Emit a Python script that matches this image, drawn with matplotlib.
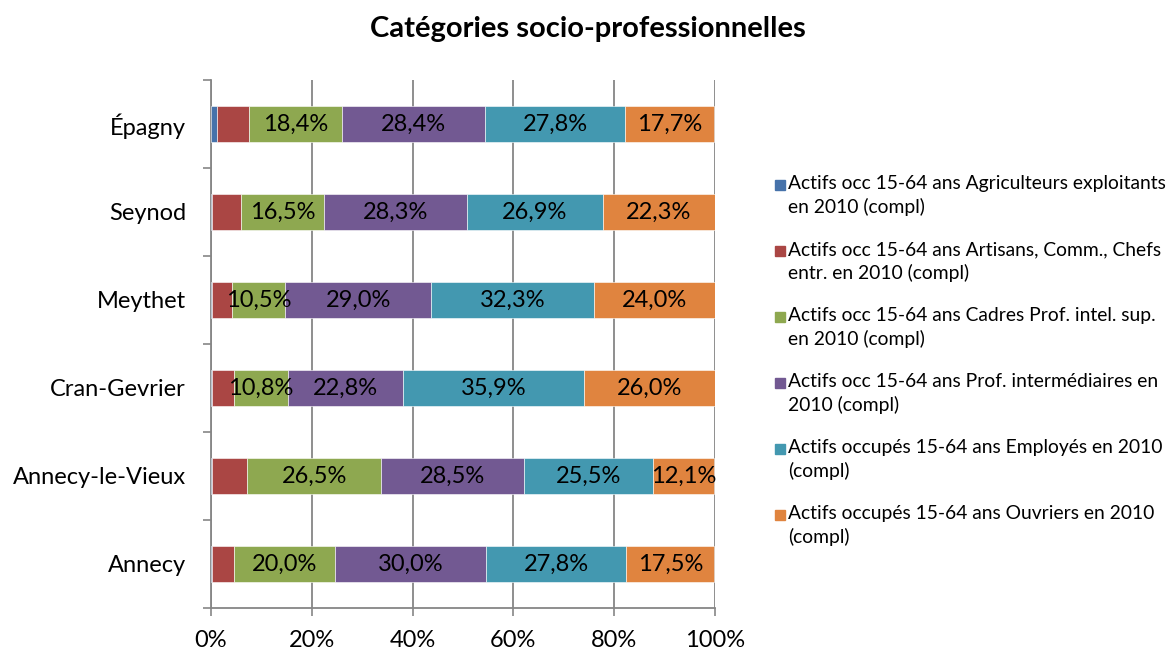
import numpy as np
import matplotlib.pyplot as plt
from matplotlib.patches import Rectangle

plt.rcParams['font.family'] = ['Lato', 'DejaVu Sans']

# ------------------------------------------------------------
# DONNEES
# ------------------------------------------------------------

communes = ["Annecy", "Annecy-le-Vieux", "Cran-Gevrier", "Meythet", "Seynod", "Épagny"]

agriculteurs = [0.1, 0.2, 0.1, 0.1, 0.1, 1.1]
artisans = [4.5, 7.0, 4.4, 4.1, 5.9, 6.5]
cadres = [20.0, 26.5, 10.8, 10.5, 16.5, 18.4]
prof_inter = [30.0, 28.5, 22.8, 29.0, 28.3, 28.4]
employes = [27.8, 25.5, 35.9, 32.3, 26.9, 27.8]
ouvriers = [17.5, 12.1, 26.0, 24.0, 22.3, 17.7]

series_names = [
    "Actifs occ 15-64 ans Agriculteurs exploitants\nen 2010 (compl)",
    "Actifs occ 15-64 ans Artisans, Comm., Chefs\nentr. en 2010 (compl)",
    "Actifs occ 15-64 ans Cadres Prof. intel. sup.\nen 2010 (compl)",
    "Actifs occ 15-64 ans Prof. intermédiaires en\n2010 (compl)",
    "Actifs occupés 15-64 ans Employés en 2010\n(compl)",
    "Actifs occupés 15-64 ans Ouvriers en 2010\n(compl)",
]
series = [agriculteurs, artisans, cadres, prof_inter, employes, ouvriers]
colors = ["#4672AA", "#AA4644", "#8EA850", "#725992", "#4398B0", "#E0843F"]
labelled = [False, False, True, True, True, True]

# ------------------------------------------------------------
# FIGURE
# ------------------------------------------------------------

W, H = 1175, 655
fig = plt.figure(figsize=(W / 100, H / 100), dpi=100)
ax = fig.add_axes([0.1796, 0.0718, 0.4289, 0.8061])

y = np.arange(len(communes))
left = np.zeros(len(communes))

for name, vals, col, lab in zip(series_names, series, colors, labelled):
    vals = np.array(vals)
    ax.barh(y, vals, left=left, height=0.4, color=col,
            edgecolor="white", linewidth=0.4, label=name, zorder=3)
    if lab:
        for yi, l, v in zip(y, left, vals):
            ax.text(l + v / 2, yi, f"{v:.1f}%".replace(".", ","),
                    ha="center", va="center", fontsize=17, color="black",
                    zorder=4)
    left = left + vals

ax.set_xlim(0, 100)
ax.set_ylim(-0.5, len(communes) - 0.5)
ax.set_xticks([0, 20, 40, 60, 80, 100])
ax.set_xticklabels(["0%", "20%", "40%", "60%", "80%", "100%"], fontsize=17)
ax.set_yticks(y)
ax.set_yticklabels(communes, fontsize=17)
ax.set_yticks(np.arange(-0.5, len(communes), 1), minor=True)

ax.tick_params(axis="y", which="major", length=0, pad=18)
ax.tick_params(axis="y", which="minor", length=6, color="#868686", width=1.2)
ax.tick_params(axis="x", length=6, color="#868686", width=1.2, pad=10)

ax.grid(axis="x", color="#868686", linewidth=1.3, zorder=0)
for s in ["top", "right"]:
    ax.spines[s].set_visible(False)
for s in ["left", "bottom"]:
    ax.spines[s].set_color("#868686")
    ax.spines[s].set_linewidth(1.3)

fig.text(0.5, 0.955, "Catégories socio-professionnelles", ha="center",
         va="center", fontsize=21, fontweight="bold")

# legende dessinee a la main (carre aligne sur la 1re ligne, comme Excel)
for i, (name, col) in enumerate(zip(series_names, colors)):
    ytop = 185 + 66 * i
    fig.add_artist(Rectangle((775 / W, 1 - (ytop + 5) / H), 10 / W, 10 / H,
                             transform=fig.transFigure, color=col))
    fig.text(788 / W, 1 - (ytop - 10) / H, name, ha="left", va="top",
             fontsize=13.9, linespacing=1.4)

fig.savefig("out.png", dpi=100)
